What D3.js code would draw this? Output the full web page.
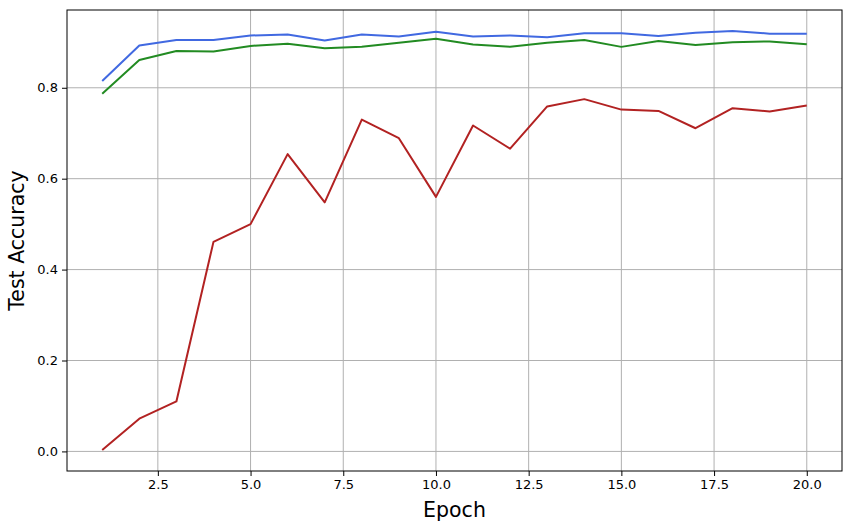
<!DOCTYPE html>
<meta charset="utf-8">
<script src="https://d3js.org/d3.v7.min.js"></script>
<style>
body { margin: 0; background: #fff; }
text { font-family: "DejaVu Sans", sans-serif; }
</style>
<body>
<svg width="852" height="531"></svg>
<script>
// epochs and test accuracy per run
var epochs = d3.range(1, 21);
var blueAcc  = [0.815, 0.893, 0.905, 0.905, 0.915, 0.917, 0.904, 0.917, 0.913, 0.923,
                0.913, 0.915, 0.911, 0.920, 0.920, 0.914, 0.921, 0.925, 0.919, 0.919];
var greenAcc = [0.787, 0.861, 0.881, 0.880, 0.892, 0.897, 0.887, 0.890, 0.899, 0.908,
                0.895, 0.890, 0.899, 0.905, 0.890, 0.903, 0.894, 0.900, 0.902, 0.896];
var redAcc   = [0.003, 0.072, 0.110, 0.461, 0.500, 0.654, 0.548, 0.730, 0.689, 0.560,
                0.717, 0.666, 0.759, 0.775, 0.752, 0.749, 0.711, 0.755, 0.748, 0.761];
var xTicks = [2.5, 5, 7.5, 10, 12.5, 15, 17.5, 20];
var yTicks = [0, 0.2, 0.4, 0.6, 0.8];

var series = [
  {vals: blueAcc,  color: "#4169e1"},
  {vals: greenAcc, color: "#228b22"},
  {vals: redAcc,   color: "#b22222"}
];

var margin = {left: 67, right: 10, top: 10, bottom: 60};
var W = 852, H = 531;
var svg = d3.select("svg");

// matplotlib-ish 5% margins
var xPad = (20 - 1) * 0.05;
var allVals = [].concat(blueAcc, greenAcc, redAcc);
var yMin = d3.min(allVals), yMax = d3.max(allVals), yPad = (yMax - yMin) * 0.05;

var x = d3.scaleLinear().domain([1 - xPad, 20 + xPad]).range([margin.left, W - margin.right]);
var y = d3.scaleLinear().domain([yMin - yPad, yMax + yPad]).range([H - margin.bottom, margin.top]);

// grid
svg.append("g").selectAll("line").data(xTicks).enter().append("line")
  .attr("x1", function(d){ return x(d); }).attr("x2", function(d){ return x(d); })
  .attr("y1", margin.top).attr("y2", H - margin.bottom)
  .attr("stroke", "#b0b0b0").attr("stroke-width", 1);
svg.append("g").selectAll("line").data(yTicks).enter().append("line")
  .attr("y1", function(d){ return y(d); }).attr("y2", function(d){ return y(d); })
  .attr("x1", margin.left).attr("x2", W - margin.right)
  .attr("stroke", "#b0b0b0").attr("stroke-width", 1);

// lines
var line = d3.line()
  .x(function(d, i){ return x(epochs[i]); })
  .y(function(d){ return y(d); });

svg.append("g").selectAll("path").data(series).enter().append("path")
  .attr("d", function(s){ return line(s.vals); })
  .attr("fill", "none")
  .attr("stroke", function(s){ return s.color; })
  .attr("stroke-width", 2)
  .attr("stroke-linejoin", "round");

// axes
var xAxis = svg.append("g")
  .attr("transform", "translate(0," + (H - margin.bottom) + ")")
  .call(d3.axisBottom(x).tickValues(xTicks).tickFormat(d3.format(".1f")).tickSizeInner(5).tickSizeOuter(0).tickPadding(4));
var yAxis = svg.append("g")
  .attr("transform", "translate(" + margin.left + ",0)")
  .call(d3.axisLeft(y).tickValues(yTicks).tickFormat(d3.format(".1f")).tickSizeInner(5).tickSizeOuter(0).tickPadding(4));
[xAxis, yAxis].forEach(function(a){
  a.select(".domain").remove();
  a.selectAll("text").attr("font-size", 13).attr("fill", "#000").attr("font-family", "DejaVu Sans");
  a.selectAll("line").attr("stroke", "#000");
});

// frame
svg.append("rect")
  .attr("x", margin.left).attr("y", margin.top)
  .attr("width", W - margin.left - margin.right)
  .attr("height", H - margin.top - margin.bottom)
  .attr("fill", "none").attr("stroke", "#000").attr("stroke-width", 1);

// labels
svg.append("text")
  .attr("x", (margin.left + W - margin.right) / 2).attr("y", 517)
  .attr("text-anchor", "middle").attr("font-size", 20.5)
  .text("Epoch");
svg.append("text")
  .attr("transform", "translate(24," + ((margin.top + H - margin.bottom) / 2) + ") rotate(-90)")
  .attr("text-anchor", "middle").attr("font-size", 20.5)
  .text("Test Accuracy");
</script>
</body>
